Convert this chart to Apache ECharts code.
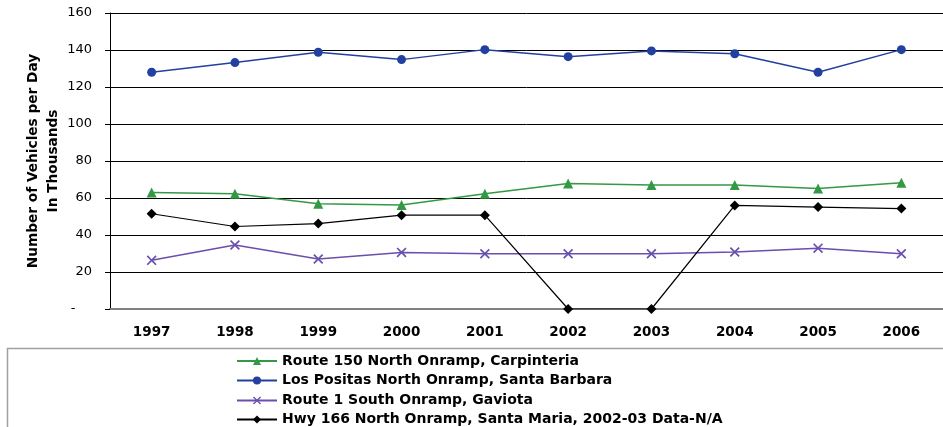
<!DOCTYPE html>
<html>
<head>
<meta charset="utf-8">
<script src="https://cdn.jsdelivr.net/npm/echarts@6/dist/echarts.min.js"></script>
<style>html,body{margin:0;padding:0;background:#fff;}#c{width:943px;height:427px;}</style>
</head>
<body>
<div id="c"></div>
<script>
var years = ['1997','1998','1999','2000','2001','2002','2003','2004','2005','2006'];
var yTicks = [0,20,40,60,80,100,120,140,160];
var route150 = [63.0,62.3,56.9,56.2,62.3,67.8,67.0,67.0,65.1,68.2];
var losPositas = [128.0,133.2,138.8,134.8,140.2,136.4,139.5,138.0,128.0,140.2];
var route1 = [26.3,34.6,27.0,30.6,29.9,29.9,29.9,30.8,32.9,29.9];
var hwy166 = [51.5,44.6,46.2,50.7,50.7,0,0,56.0,55.1,54.3];
var names = ['Route 150 North Onramp, Carpinteria','Los Positas North Onramp, Santa Barbara','Route 1 South Onramp, Gaviota','Hwy 166 North Onramp, Santa Maria, 2002-03 Data-N/A'];

var FONT = 'DejaVu Sans';
var xSym = 'path://M0,1.2 L1.2,0 L5,3.8 L8.8,0 L10,1.2 L6.2,5 L10,8.8 L8.8,10 L5,6.2 L1.2,10 L0,8.8 L3.8,5 Z';
var legendTops = [349, 368.5, 388.5, 407.5];
var legends = names.map(function(n, i){
  return {
    left:231, top:legendTops[i], itemWidth:40, itemHeight:10,
    textStyle:{fontFamily:FONT, fontWeight:'bold', fontSize:14, color:'#000'},
    data:[n]
  };
});
var chart = echarts.init(document.getElementById('c'));
chart.setOption({
  animation: false,
  backgroundColor: '#fff',
  graphic: [{type:'rect', shape:{x:7.5,y:348.5,width:1000,height:200}, style:{fill:'none',stroke:'#a0a0a0',lineWidth:1.5}, z:-1}],
  grid: {left:110, top:13, width:840, height:296},
  legend: legends,
  xAxis: {
    type:'category', data: years, boundaryGap:true,
    axisLine:{lineStyle:{color:'#808080', width:2}},
    axisTick:{lineStyle:{color:'#808080'}, length:4},
    axisLabel:{fontFamily:FONT, fontWeight:'bold', fontSize:13.5, color:'#000', margin:16}
  },
  yAxis: {
    type:'value', min:0, max:160, interval:20,
    name:'Number of Vehicles per Day\nIn Thousands', nameLocation:'middle', nameGap:47, nameMoveOverlap:false,
    nameTextStyle:{fontFamily:FONT, fontWeight:'bold', fontSize:13.7, color:'#000', lineHeight:20},
    axisLine:{show:true, lineStyle:{color:'#000', width:1}},
    axisTick:{show:true, length:5, lineStyle:{color:'#000'}},
    splitLine:{lineStyle:{color:'#000', width:1}},
    axisLabel:{fontFamily:FONT, fontSize:13, color:'#000', margin:18,
      formatter:function(v){return v===0 ? '-    ' : String(v);}}
  },
  series: [
    {name:names[0], type:'line', data:route150, symbol:'triangle', symbolSize:10, color:'#339944',
      lineStyle:{width:1.5, color:'#339944'}, itemStyle:{color:'#339944'}, z:3},
    {name:names[1], type:'line', data:losPositas, symbol:'circle', symbolSize:9, color:'#2340a0',
      lineStyle:{width:1.5, color:'#2340a0'}, itemStyle:{color:'#2340a0'}, z:3},
    {name:names[2], type:'line', data:route1, symbol:xSym, symbolSize:10, color:'#6a4fae',
      lineStyle:{width:1.5, color:'#6a4fae'}, itemStyle:{color:'#6a4fae'}, z:3},
    {name:names[3], type:'line', data:hwy166, symbol:'diamond', symbolSize:10, color:'#000',
      lineStyle:{width:1.2, color:'#000'}, itemStyle:{color:'#000'}, z:4}
  ]
});
</script>
</body>
</html>
